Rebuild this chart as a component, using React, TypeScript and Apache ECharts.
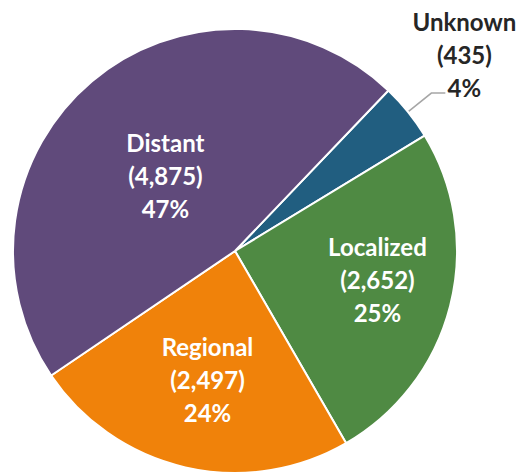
import React, { useEffect, useRef } from 'react';
import * as echarts from 'echarts';

const categories = ['Unknown', 'Localized', 'Regional', 'Distant'];
const counts = [435, 2652, 2497, 4875];
const colors = ['#215E80', '#4F8A43', '#F0820A', '#604A7B'];

export default function App() {
  const ref = useRef<HTMLDivElement>(null);

  useEffect(() => {
    document.body.style.margin = '0';
    const chart = echarts.init(ref.current!, null, { renderer: 'svg' });
    // spacer heights (px) used to nudge label blocks vertically
    const leadSpace: Record<string, number> = { Distant: 24, Regional: 34, Localized: 0, Unknown: 0 };
    const trailSpace: Record<string, number> = { Unknown: 78, Distant: 0, Regional: 0, Localized: 0 };
    const fmt = (p: any) => {
      const body = `{t|${p.name}}\n{t|(${Number(p.value).toLocaleString('en-US')})}\n{t|${Math.round(p.percent)}%}`;
      const lead = leadSpace[p.name] ? `{lead|}\n` : '';
      const trail = trailSpace[p.name] ? `\n{trail|}` : '';
      return lead + body + trail;
    };
    const padLeft: Record<string, number[]> = {
      Localized: [0, 0, 0, 64],
      Regional: [0, 4, 0, 0],
      Distant: [0, 0, 0, 8],
      Unknown: [0, 0, 0, 28],
    };
    const baseFont = {
      fontFamily: 'Lato, "Liberation Sans", Arial, sans-serif',
      fontWeight: 'bold',
      fontSize: 24,
      lineHeight: 33,
    };
    const richFor = (name: string, color: string) => ({
      t: { ...baseFont, color },
      lead: { fontSize: 8, lineHeight: leadSpace[name] || 1, height: leadSpace[name] || 1 },
      trail: { fontSize: 8, lineHeight: trailSpace[name] || 1, height: trailSpace[name] || 1 },
    });
    chart.setOption({
      animation: false,
      series: [
        {
          type: 'pie',
          center: [235, 251],
          radius: 222,
          startAngle: 46.3,
          clockwise: true,
          avoidLabelOverlap: false,
          itemStyle: { borderColor: '#ffffff', borderWidth: 2 },
          labelLayout: (params: any) =>
            params.dataIndex === 0 ? { align: 'center', verticalAlign: 'middle' } : {},
          data: categories.map((name, i) =>
            i === 0
              ? {
                  name,
                  value: counts[i],
                  itemStyle: { color: colors[i] },
                  label: {
                    show: true,
                    position: 'outside',
                    formatter: fmt,
                    color: '#262626',
                    padding: padLeft[name],
                    rich: richFor(name, '#262626'),
                    ...baseFont,
                  },
                  labelLine: {
                    show: true,
                    length: 30,
                    length2: 14,
                    lineStyle: { color: '#A6A6A6', width: 1.5 },
                  },
                }
              : {
                  name,
                  value: counts[i],
                  itemStyle: { color: colors[i] },
                  label: {
                    show: true,
                    position: 'inside',
                    formatter: fmt,
                    color: '#ffffff',
                    padding: padLeft[name],
                    rich: richFor(name, '#ffffff'),
                    ...baseFont,
                  },
                  labelLine: { show: false },
                }
          ),
        },
      ],
    });
    return () => chart.dispose();
  }, []);

  return <div ref={ref} style={{ width: 522, height: 473 }} />;
}
